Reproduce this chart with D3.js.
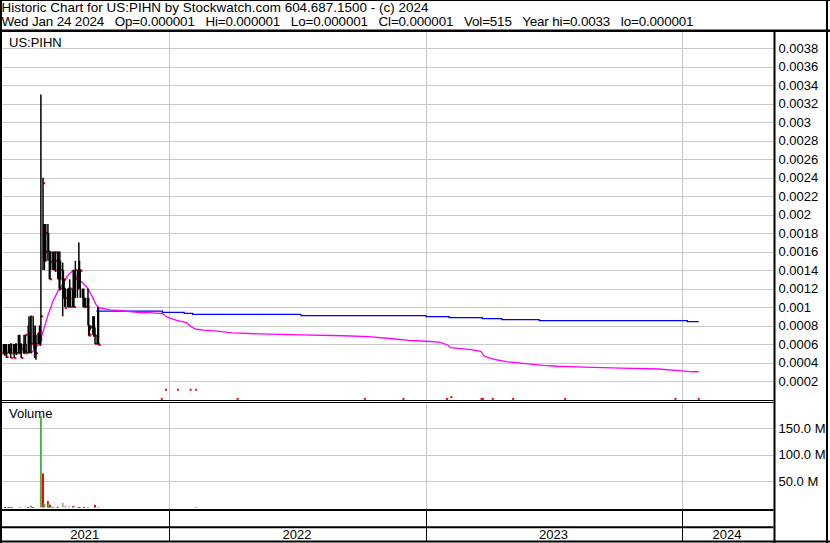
<!DOCTYPE html>
<html><head><meta charset="utf-8">
<script src="https://cdn.jsdelivr.net/npm/d3@7"></script>
<style>
body{margin:0;background:#fff}
svg{display:block;font-family:Arial,"Liberation Sans",sans-serif}
text{white-space:pre}
</style></head><body>
<svg id="c" width="830" height="543"></svg>
<script>
// ---------- data ----------
const titleLines = [
  "Historic Chart for US:PIHN by Stockwatch.com 604.687.1500 - (c) 2024",
  "Wed Jan 24 2024   Op=0.000001   Hi=0.000001   Lo=0.000001   Cl=0.000001   Vol=515   Year hi=0.0033   lo=0.000001"
];
const symbol = "US:PIHN";
const volumeTitle = "Volume";
const priceTicks = [0.0002,0.0004,0.0006,0.0008,0.001,0.0012,0.0014,0.0016,0.0018,0.002,
                    0.0022,0.0024,0.0026,0.0028,0.003,0.0032,0.0034,0.0036,0.0038];
const volumeTicks = [50e6,100e6,150e6];
const yearLabels = ["2021","2022","2023","2024"];
const yearStarts = ["2022-01-01","2023-01-01","2024-01-01"];
// consecutive trading days starting at barsStart: [high, low, close]
const barsStart = "2021-05-07";
const bars = [
 [.0006,.0005,.0005],
 [.0006,.0005,.0005],[.0006,.00048,.00048],[.0006,.0005,.00052],[.0006,.0005,.0005],[.0006,.00045,.00046],
 [.0006,.0005,.00055],[.0006,.0005,.0005],[.0006,.0005,.0006],[.00055,.00045,.00045],[.0006,.0005,.0005],
 [.0006,.0005,.00052],[.0006,.00045,.00045],[.0006,.0005,.0006],[.0006,.0005,.0005],[.0006,.00048,.0005],
 [.0007,.0005,.0006],[.0006,.0005,.0005],[.0007,.00055,.0006],[.0006,.0005,.00055],[.0006,.00045,.00045],
 [.0006,.0005,.0005],[.0007,.0005,.0006],[.0006,.0005,.00052],[.0007,.0006,.0007],[.0006,.0005,.0005],
 [.0008,.0005,.0006],[.0009,.0006,.0007],[.0007,.0005,.0006],[.0009,.0006,.0009],[.0009,.0005,.0006],
 [.0009,.0006,.0007],[.0008,.00055,.0006],[.0007,.00045,.0005],[.0008,.0005,.0006],[.0007,.00043,.0005],
 [.00072,.0006,.00072],[.0007,.0006,.0006],[.0008,.0006,.0006],[.0008,.00058,.00065],[.0033,.00061,.0009],
 [.0024,.0014,.00234],[.0019,.0015,.0017],[.0019,.0014,.0015],[.0018,.0015,.0016],[.0019,.0015,.0018],
 [.0019,.0015,.0016],[.0018,.0016,.00158],[.0016,.0013,.00159],[.0016,.0013,.0013],[.0016,.0014,.00149],
 [.0016,.0014,.0015],[.0016,.0014,.0015],[.0015,.0014,.0014],[.0016,.0014,.0015],[.0016,.00138,.00159],
 [.0016,.0013,.0014],[.0016,.0013,.00149],[.0015,.0012,.0013],[.0016,.00118,.0012],[.0015,.0013,.0014],
 [.00148,.0009,.0011],[.0014,.0011,.0012],[.0013,.0011,.0013],[.0012,.001,.00099],[.0012,.001,.0011],
 [.0012,.001,.001],[.0012,.001,.0012],[.0012,.001,.00109],[.0013,.001,.0012],[.0012,.001,.001],
 [.0012,.001,.001],[.0014,.001,.0013],[.0014,.001,.001],[.0014,.0011,.0013],[.0015,.0011,.0014],
 [.0014,.0011,.0012],[.0014,.0012,.0013],[.0017,.0013,.0014],[.0015,.0012,.0014],[.0014,.0011,.00139],
 [.0012,.0011,.0011],[.0011,.001,.001],[.0012,.001,.001],[.0011,.001,.001],[.0011,.001,.001],
 [.0011,.001,.001],[.0012,.0008,.0008],[.0011,.00069,.00069],[.0008,.0007,.0007],[.0008,.00075,.00078],
 [.0008,.00078,.00079],[.0009,.0007,.0008],[.0009,.00068,.0007],[.0009,.0007,.00069],[.00078,.0006,.0006],
 [.0007,.0006,.00068],[.001,.0006,.0006],[.00099,.00059,.00059]
];
// later isolated trades: [date, price]
const laterTrades = [
 ["2021-12-21",0.000001],["2021-12-27",0.0001],["2022-01-13",0.0001],["2022-01-31",0.0001],
 ["2022-02-08",0.0001],["2022-04-08",0.000001],["2022-10-06",0.000001],["2022-11-30",0.000001],
 ["2023-01-31",0.000001],["2023-02-06",0.00002],["2023-03-21",0.000001],["2023-03-23",0.000001],
 ["2023-04-06",0.000001],["2023-05-05",0.000001],["2023-07-18",0.000001],["2023-12-22",0.000001],
 ["2024-01-24",0.000001]
];
// volume: [date, shares, direction]
const volumes = [
 ["2021-05-07",1.5e6,"flat"],["2021-05-12",1e6,"down"],["2021-05-17",1e6,"down"],["2021-05-21",1e6,"down"],
 ["2021-06-03",1e6,"flat"],["2021-06-14",1e6,"down"],["2021-06-18",3.4e6,"up"],["2021-06-21",1e6,"down"],
 ["2021-07-02",173e6,"up"],["2021-07-05",64e6,"down"],["2021-07-07",6.6e6,"up"],["2021-07-12",12e6,"down"],
 ["2021-07-13",8e6,"up"],["2021-07-15",5e6,"down"],["2021-07-19",1e6,"up"],["2021-07-26",1.5e6,"down"],
 ["2021-08-02",9e6,"flat"],["2021-08-06",3e6,"flat"],["2021-08-11",2e6,"flat"],["2021-08-17",3e6,"down"],
 ["2021-08-24",1e6,"flat"],["2021-08-26",1e6,"down"],["2021-09-01",1e6,"down"],["2021-09-07",1e6,"flat"],
 ["2021-09-17",5e6,"down"],["2021-09-22",1e6,"flat"],["2022-02-07",1e6,"flat"]
];
// moving averages: [date, value]
const maShort = [
 ["2021-06-18",0.0005],["2021-06-30",0.00061],["2021-07-12",0.00091],["2021-07-19",0.00106],
 ["2021-07-26",0.00117],["2021-08-03",0.00126],["2021-08-08",0.00133],["2021-08-17",0.0014],
 ["2021-08-22",0.00131],["2021-08-29",0.00127],["2021-09-05",0.00122],["2021-09-12",0.00113],
 ["2021-09-19",0.00102],["2021-09-24",0.00099],["2021-10-08",0.00097],["2021-10-26",0.00096],
 ["2021-11-19",0.00094],["2021-12-03",0.00094],["2021-12-22",0.00093],["2021-12-29",0.00089],
 ["2022-01-10",0.00086],["2022-01-26",0.00083],["2022-01-31",0.00079],["2022-02-08",0.00076],
 ["2022-02-19",0.00075],["2022-03-10",0.00074],["2022-03-31",0.00072],["2022-05-09",0.00071],
 ["2022-07-07",0.0007],["2022-09-04",0.00069],["2022-10-12",0.00068],["2022-11-10",0.00066],
 ["2022-12-08",0.00064],["2023-01-01",0.00063],["2023-01-20",0.00062],["2023-02-01",0.00059],
 ["2023-02-05",0.00056],["2023-02-19",0.00055],["2023-03-06",0.00054],["2023-03-20",0.00052],
 ["2023-03-25",0.00047],["2023-04-01",0.00045],["2023-04-11",0.00043],["2023-04-25",0.00041],
 ["2023-05-19",0.00039],["2023-06-16",0.00037],["2023-07-07",0.00036],["2023-08-14",0.00035],
 ["2023-10-05",0.00034],["2023-11-28",0.00033],["2023-12-31",0.00031],["2024-01-16",0.0003],
 ["2024-01-24",0.0003]
];
const maLong = [
 ["2021-09-19",0.000957],["2021-12-22",0.000943],["2022-01-22",0.000932],["2022-02-03",0.00092],
 ["2022-07-07",0.000908],["2023-01-01",0.000897],["2023-02-03",0.000886],["2023-03-22",0.000876],
 ["2023-04-19",0.000865],["2023-06-11",0.000854],["2024-01-08",0.000843],["2024-01-24",0.000843]
];

// ---------- layout ----------
const svg = d3.select("#c");
const plotL = 2, plotR = 773.5;
const priceTop = 31, priceBot = 400, volTop = 402.5, volBot = 509;
const parse = s => new Date(s + "T00:00:00Z");
const x = d3.scaleUtc().domain([parse("2022-01-01"), parse("2024-01-01")]).range([169.5, 682.5]);
const yP = d3.scaleLinear().domain([0, 0.004]).range([399.5, 29.8]);
const yV = d3.scaleLinear().domain([0, 200e6]).range([507.5, 401.5]);

// trading-day dates for bars
const barDates = [];
{
  let d = parse(barsStart);
  while (barDates.length < bars.length) {
    const wd = d.getUTCDay();
    if (wd !== 0 && wd !== 6) barDates.push(d);
    d = d3.utcDay.offset(d, 1);
  }
}

const defs = svg.append("defs");
defs.append("clipPath").attr("id","cp").append("rect")
  .attr("x",plotL).attr("y",priceTop+1).attr("width",plotR-plotL).attr("height",priceBot-priceTop-1);
defs.append("clipPath").attr("id","cv").append("rect")
  .attr("x",plotL).attr("y",volTop).attr("width",plotR-plotL).attr("height",volBot-volTop);

// header
const hdrLen = [427, 692];
svg.selectAll("text.hdr").data(titleLines).join("text").attr("class","hdr")
  .attr("x",1.5).attr("y",(d,i)=>12+i*14).attr("font-size",13.4).attr("fill","#000")
  .attr("textLength",(d,i)=>hdrLen[i]).attr("lengthAdjust","spacing").text(d=>d);

// price axis with gridlines
const gP = svg.append("g").attr("transform",`translate(${plotR},0)`)
  .call(d3.axisRight(yP).tickValues(priceTicks).tickSize(-(plotR-plotL)).tickPadding(5)
    .tickFormat(d => String(Number(d.toFixed(4)))));
gP.select(".domain").remove();
gP.selectAll("line").attr("stroke","#c8c8c8").attr("shape-rendering","crispEdges");
gP.selectAll("text").attr("font-size",13).attr("fill","#000").attr("font-family","Arial, 'Liberation Sans', sans-serif");

// volume axis with gridlines
const gV = svg.append("g").attr("transform",`translate(${plotR},0)`)
  .call(d3.axisRight(yV).tickValues(volumeTicks).tickSize(-(plotR-plotL)).tickPadding(5)
    .tickFormat(d => (d/1e6).toFixed(1) + " M"));
gV.select(".domain").remove();
gV.selectAll("line").attr("stroke","#c8c8c8").attr("shape-rendering","crispEdges");
gV.selectAll("text").attr("font-size",13).attr("fill","#000").attr("font-family","Arial, 'Liberation Sans', sans-serif");

// year gridlines
const yearX = yearStarts.map(s => Math.round(x(parse(s)) - 0.5) + 0.5);
svg.append("g").selectAll("line").data(yearX).join("line")
  .attr("x1",d=>d).attr("x2",d=>d).attr("y1",priceTop).attr("y2",priceBot)
  .attr("stroke","#c8c8c8").attr("shape-rendering","crispEdges");
svg.append("g").selectAll("line").data(yearX).join("line")
  .attr("x1",d=>d).attr("x2",d=>d).attr("y1",volTop).attr("y2",volBot)
  .attr("stroke","#c8c8c8").attr("shape-rendering","crispEdges");
svg.append("g").selectAll("line").data(yearX).join("line")
  .attr("x1",d=>d).attr("x2",d=>d).attr("y1",volBot).attr("y2",541)
  .attr("stroke","#000").attr("shape-rendering","crispEdges");

// labels
svg.append("text").attr("x",9).attr("y",46.5).attr("font-size",13).text(symbol);
svg.append("text").attr("x",9).attr("y",417.5).attr("font-size",13).text(volumeTitle);

// year labels
const bounds = [plotL, ...yearX, plotR];
svg.append("g").selectAll("text").data(yearLabels).join("text")
  .attr("x",(d,i)=>(bounds[i]+bounds[i+1])/2 - 1).attr("y",539)
  .attr("text-anchor","middle").attr("font-size",13).text(d=>d);

// moving averages
const pc = svg.append("g").attr("clip-path","url(#cp)");
pc.append("path").datum(maLong).attr("fill","none").attr("stroke","#0000ff").attr("stroke-width",1.3)
  .attr("d", d3.line().x(d=>x(parse(d[0]))).y(d=>yP(d[1])).curve(d3.curveStepAfter));
pc.append("path").datum(maShort).attr("fill","none").attr("stroke","#ff00ff").attr("stroke-width",1.3)
  .attr("d", d3.line().x(d=>x(parse(d[0]))).y(d=>yP(d[1])));

// close ticks (drawn first, to the right of each bar; later bars overdraw them)
pc.append("g").selectAll("rect").data(bars).join("rect")
  .attr("x",(d,i)=>x(barDates[i])).attr("y",d=>yP(d[2])-1)
  .attr("width",2.2).attr("height",2).attr("fill","#ff0000");
// price bars
pc.append("g").selectAll("line").data(bars).join("line")
  .attr("x1",(d,i)=>x(barDates[i])).attr("x2",(d,i)=>x(barDates[i]))
  .attr("y1",d=>yP(d[0])).attr("y2",d=>yP(d[1]))
  .attr("stroke","#000").attr("stroke-width",1.5);
pc.append("g").selectAll("rect").data(laterTrades).join("rect")
  .attr("x",d=>x(parse(d[0]))-1).attr("y",d=>yP(d[1])-1.5)
  .attr("width",2).attr("height",2).attr("fill","#ff0000");

// volume bars
const volColor = {up:"#4cb04c", down:"#ff0000", flat:"#aaaaaa"};
svg.append("g").attr("clip-path","url(#cv)").selectAll("rect").data(volumes).join("rect")
  .attr("x",d=>x(parse(d[0]))-1).attr("y",d=>yV(d[1]))
  .attr("width",2).attr("height",d=>Math.max(1, yV(0)-yV(d[1])))
  .attr("fill",d=>volColor[d[2]]);

// frame lines
const bl = (x1,y1,x2,y2,w) => svg.append("line").attr("x1",x1).attr("y1",y1).attr("x2",x2).attr("y2",y2)
  .attr("stroke","#000").attr("stroke-width",w);
bl(0,0.5,830,0.5,1);          // top
bl(0,30.75,830,30.75,2.5);    // header separator
bl(1,0,1,543,2);              // left
bl(plotR+1,31,plotR+1,543,2); // plot right
bl(827,0,827,543,2);          // outer right
bl(0,400.5,plotR,400.5,1);    // price bottom
bl(0,402.5,plotR,402.5,1);    // volume top
bl(0,510,plotR,510,2);        // volume bottom
bl(0,527.3,plotR,527.3,2);    // axis row separator
bl(0,541.5,830,541.5,2);      // bottom
</script>
</body></html>
